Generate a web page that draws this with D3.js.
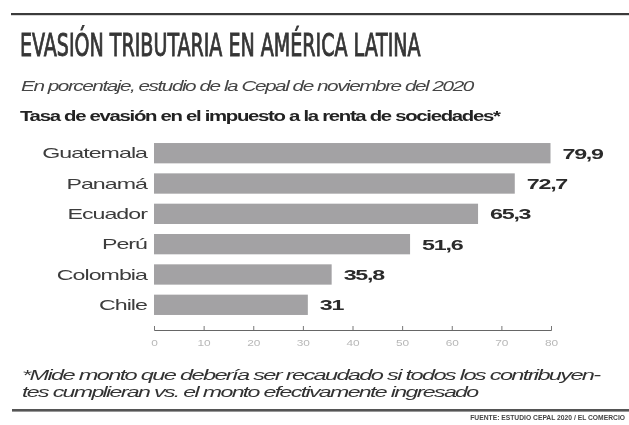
<!DOCTYPE html>
<html>
<head>
<meta charset="utf-8">
<script src="https://cdn.jsdelivr.net/npm/d3@7"></script>
<style>
  html, body { margin: 0; padding: 0; background: #fff; }
  svg { display: block; }
</style>
</head>
<body>
<svg id="chart" width="629" height="425"></svg>
<script>
// Tax evasion rate on corporate income tax, by country (%)
const countries = ["Guatemala", "Panamá", "Ecuador", "Perú", "Colombia", "Chile"];
const evasionRates = [79.9, 72.7, 65.3, 51.6, 35.8, 31];
const valueLabels = ["79,9", "72,7", "65,3", "51,6", "35,8", "31"];
const tickValues = [0, 10, 20, 30, 40, 50, 60, 70, 80];

const titleText = "EVASIÓN TRIBUTARIA EN AMÉRICA LATINA";
const subtitleText = "En porcentaje, estudio de la Cepal de noviembre del 2020";
const headingText = "Tasa de evasión en el impuesto a la renta de sociedades*";
const noteLines = [
  "*Mide monto que debería ser recaudado si todos los contribuyen-",
  "tes cumplieran vs. el monto efectivamente ingresado"
];
const sourceText = "FUENTE: ESTUDIO CEPAL 2020 / EL COMERCIO";

const svg = d3.select("#chart");
const sans = "'Liberation Sans', Arial, sans-serif";

// Stretch text glyphs horizontally around their anchor point.
// k may be a number or a function(d, i, node) returning the factor.
function stretch(sel, k) {
  sel.each(function (d, i) {
    const t = d3.select(this);
    const x0 = +t.attr("x") || 0, y0 = +t.attr("y") || 0;
    const f = typeof k === "function" ? k.call(this, d, i, this) : k;
    t.attr("x", 0).attr("y", 0)
     .attr("transform", `translate(${x0},${y0}) scale(${f},1)`);
  });
}
// factor that makes a text run span a given width
const toWidth = w => function () { return w / this.getComputedTextLength(); };

// soft edges like newsprint
const defs = svg.append("defs");
defs.append("filter").attr("id", "soft")
  .append("feGaussianBlur").attr("stdDeviation", 0.55);

const root = svg.append("g").attr("filter", "url(#soft)");

// top and bottom rules
root.append("rect").attr("x", 11).attr("y", 13).attr("width", 618).attr("height", 2.2).attr("fill", "#3a3a3a");
root.append("rect").attr("x", 12).attr("y", 409).attr("width", 617).attr("height", 2.6).attr("fill", "#555");

// title block
root.append("text")
  .attr("x", 20).attr("y", 56)
  .attr("font-family", "'Liberation Sans Narrow', 'DejaVu Sans Condensed', sans-serif")
  .attr("font-size", 32)
  .attr("fill", "#363636")
  .attr("stroke", "#363636").attr("stroke-width", 0.9)
  .text(titleText)
  .call(stretch, toWidth(401));

root.append("text")
  .attr("x", 21).attr("y", 91)
  .attr("font-family", sans).attr("font-style", "italic")
  .attr("font-size", 14).attr("fill", "#444")
  .attr("letter-spacing", -1)
  .text(subtitleText)
  .call(stretch, toWidth(452));

root.append("text")
  .attr("x", 20).attr("y", 121)
  .attr("font-family", sans).attr("font-weight", "bold")
  .attr("font-size", 14).attr("fill", "#222")
  .attr("letter-spacing", -0.9)
  .text(headingText)
  .call(stretch, toWidth(480));

// scales
const x = d3.scaleLinear().domain([0, 80]).range([154, 551]);
const y = d3.scaleBand().domain(countries).range([140, 318]).paddingInner(0.33).paddingOuter(0.1);

const data = countries.map((c, i) => ({ country: c, value: evasionRates[i], label: valueLabels[i] }));

root.selectAll("rect.bar").data(data).join("rect")
  .attr("class", "bar")
  .attr("x", x(0))
  .attr("y", d => y(d.country))
  .attr("width", d => x(d.value) - x(0))
  .attr("height", y.bandwidth())
  .attr("fill", "#a3a2a4");

root.selectAll("text.cat").data(data).join("text")
  .attr("class", "cat")
  .attr("x", x(0) - 7)
  .attr("y", d => y(d.country) + y.bandwidth() / 2)
  .attr("dy", "0.36em")
  .attr("text-anchor", "end")
  .attr("font-family", sans).attr("font-size", 14.5)
  .attr("letter-spacing", -0.6)
  .attr("fill", "#3c3c3c")
  .text(d => d.country)
  .call(stretch, 1.6);

root.selectAll("text.val").data(data).join("text")
  .attr("class", "val")
  .attr("x", d => x(d.value) + 12)
  .attr("y", d => y(d.country) + y.bandwidth() / 2)
  .attr("dy", "0.36em")
  .attr("font-family", sans).attr("font-weight", "bold").attr("font-size", 15)
  .attr("letter-spacing", -0.8)
  .attr("fill", "#2a2a2a")
  .text(d => d.label)
  .call(stretch, 1.55);

// x axis with short upward ticks and faint labels
const axis = d3.axisBottom(x).tickValues(tickValues).tickSize(-4).tickPadding(10).tickFormat(d3.format("d"));
const gx = root.append("g").attr("transform", "translate(0,330)").call(axis);
gx.select(".domain").attr("stroke", "#666").attr("stroke-width", 1);
gx.selectAll(".tick line").attr("stroke", "#777");
gx.selectAll(".tick text").attr("font-family", sans).attr("font-size", 8.5).attr("fill", "#b8b8b8")
  .call(stretch, 1.4);

// footnote
const noteLengths = [578, 456];
root.selectAll("text.note").data(noteLines).join("text")
  .attr("class", "note")
  .attr("x", 22)
  .attr("y", (d, i) => 380 + i * 17)
  .attr("font-family", sans).attr("font-style", "italic")
  .attr("font-size", 14).attr("fill", "#333")
  .attr("letter-spacing", -1)
  .text(d => d)
  .call(stretch, (d, i, node) => noteLengths[i] / node.getComputedTextLength());

root.append("text")
  .attr("x", 625).attr("y", 420)
  .attr("text-anchor", "end")
  .attr("font-family", sans).attr("font-weight", "bold").attr("font-size", 6.5).attr("fill", "#444")
  .text(sourceText)
  .call(stretch, toWidth(155));
</script>
</body>
</html>
